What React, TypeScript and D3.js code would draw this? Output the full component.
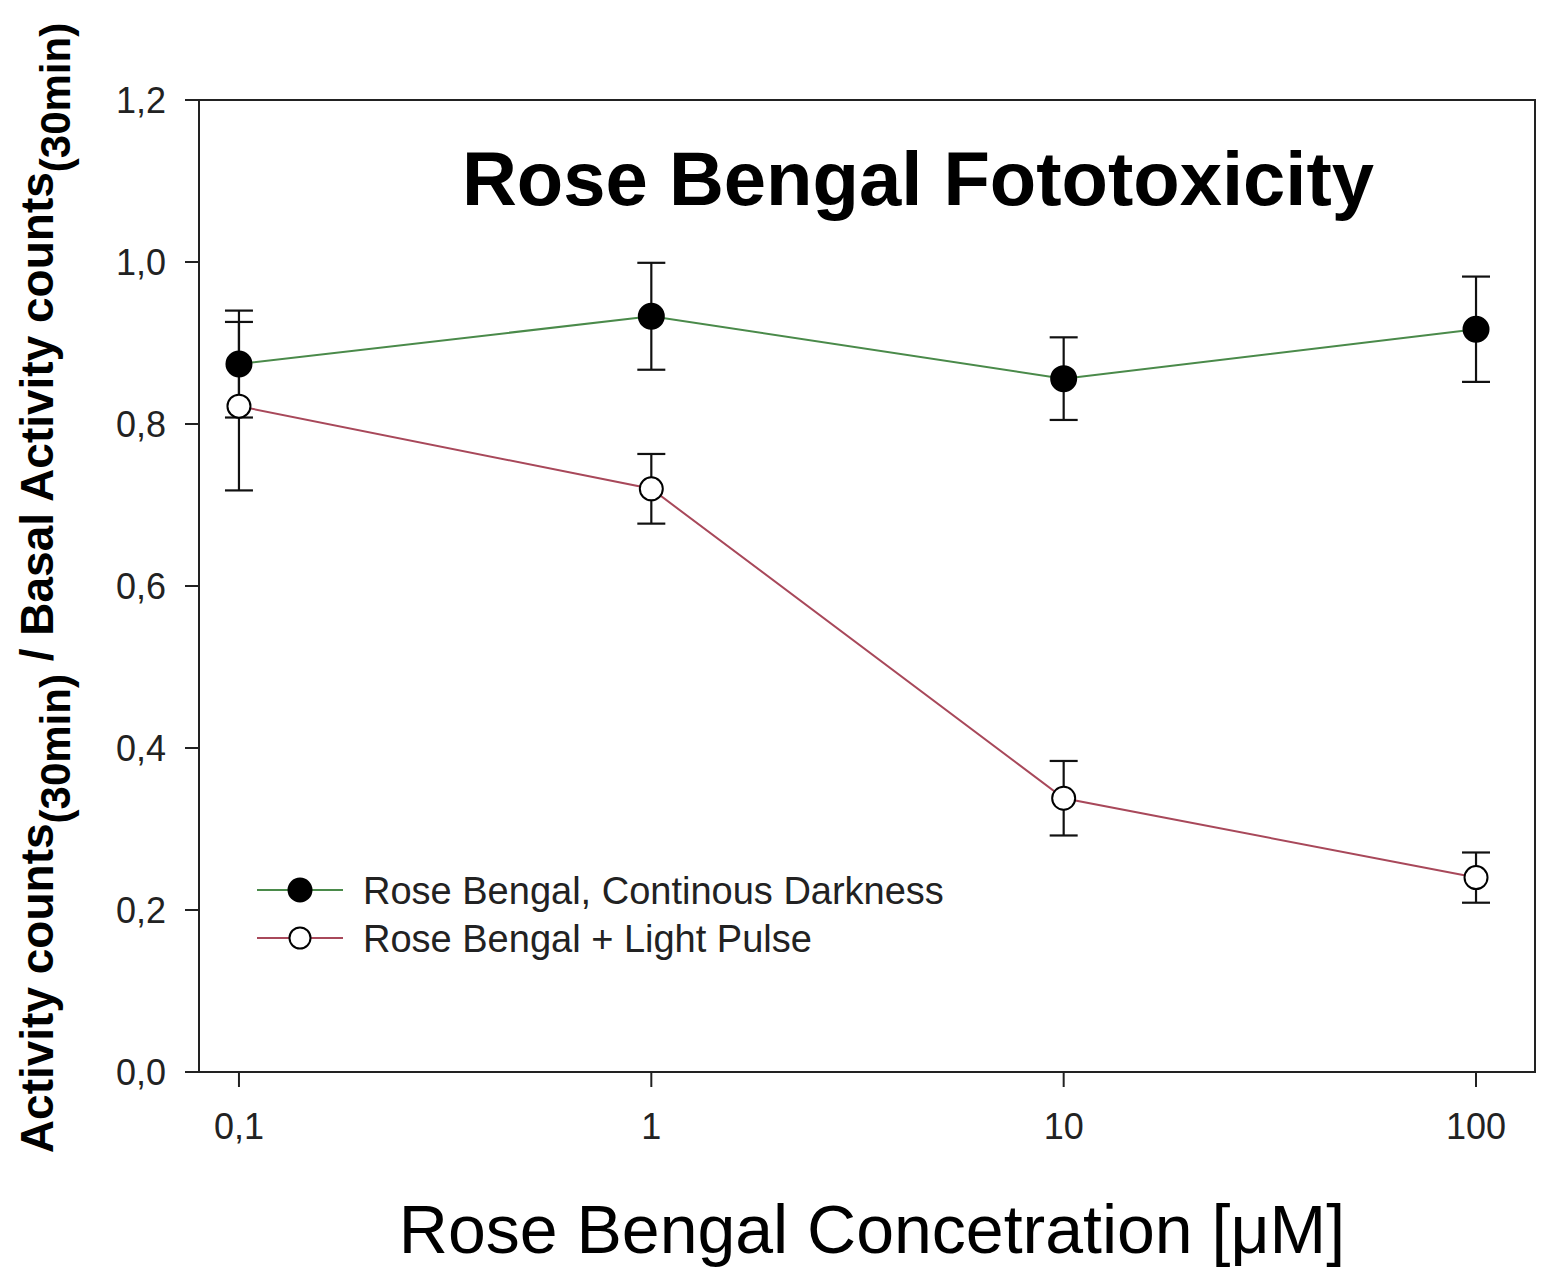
import React from "react";
import * as d3 from "d3";

const concentrations = [0.1, 1, 10, 100];
const darkMeans = [0.874, 0.933, 0.856, 0.917];
const darkErrors = [0.066, 0.066, 0.051, 0.065];
const lightMeans = [0.822, 0.72, 0.338, 0.24];
const lightErrors = [0.104, 0.043, 0.046, 0.031];
const yTicks = [0, 0.2, 0.4, 0.6, 0.8, 1.0, 1.2];
const xTicks = [0.1, 1, 10, 100];
const seriesNames = ["Rose Bengal, Continous Darkness", "Rose Bengal + Light Pulse"];
const title = "Rose Bengal Fototoxicity";
const xTitle = "Rose Bengal Concetration [\u03BCM]";

const W = 1551, H = 1268;
const L = 199, R = 1535, T = 100, B = 1072;
const FONT = "'Liberation Sans', Arial, Helvetica, sans-serif";

export default function App() {
  const x = d3.scaleLog().domain([0.08, 139]).range([L, R]);
  const y = d3.scaleLinear().domain([0, 1.2]).range([B, T]);
  const fmt = (v: number) => d3.format(".1f")(v).replace(".", ",");
  const fmtX = (v: number) => (v < 1 ? String(v).replace(".", ",") : String(v));
  const line = d3.line<number>().x((_, i) => x(concentrations[i])).y((d) => y(d));

  const series = [
    { means: darkMeans, errs: darkErrors, color: "#4a8a4a", fill: "#000" },
    { means: lightMeans, errs: lightErrors, color: "#a8485a", fill: "#fff" },
  ];

  return (
    <svg width={W} height={H} style={{ position: "absolute", left: 0, top: 0, background: "#fff" }} fontFamily={FONT}>
      <rect x={0} y={0} width={W} height={H} fill="#fff" />
      <rect x={L} y={T} width={R - L} height={B - T} fill="none" stroke="#222" strokeWidth={2} />
      {yTicks.map((t) => (
        <g key={"y" + t}>
          <line x1={L - 14} x2={L} y1={y(t)} y2={y(t)} stroke="#222" strokeWidth={2} />
          <text x={L - 33} y={y(t)} dy="0.36em" textAnchor="end" fontSize={36} fill="#222">{fmt(t)}</text>
        </g>
      ))}
      {xTicks.map((t) => (
        <g key={"x" + t}>
          <line x1={x(t)} x2={x(t)} y1={B} y2={B + 15} stroke="#222" strokeWidth={2} />
          <text x={x(t)} y={B + 67} textAnchor="middle" fontSize={36} fill="#222">{fmtX(t)}</text>
        </g>
      ))}
      {series.map((s, si) => (
        <g key={"s" + si}>
          <path d={line(s.means) || ""} fill="none" stroke={s.color} strokeWidth={2} />
          {s.means.map((m, i) => {
            const cx = x(concentrations[i]);
            const yt = y(m + s.errs[i]);
            const yb = y(m - s.errs[i]);
            return (
              <g key={i} stroke="#111" strokeWidth={2.2}>
                <line x1={cx} x2={cx} y1={yt} y2={yb} />
                <line x1={cx - 14} x2={cx + 14} y1={yt} y2={yt} />
                <line x1={cx - 14} x2={cx + 14} y1={yb} y2={yb} />
              </g>
            );
          })}
        </g>
      ))}
      {series.map((s, si) => (
        <g key={"m" + si}>
          {s.means.map((m, i) => (
            <circle key={i} cx={x(concentrations[i])} cy={y(m)} r={si === 0 ? 12.5 : 11.5} fill={s.fill} stroke="#000" strokeWidth={2} />
          ))}
        </g>
      ))}
      {series.map((s, si) => {
        const ly = 890 + si * 48;
        return (
          <g key={"l" + si}>
            <line x1={257} x2={343} y1={ly} y2={ly} stroke={s.color} strokeWidth={2} />
            <circle cx={300} cy={ly} r={si === 0 ? 11.5 : 10.5} fill={s.fill} stroke="#000" strokeWidth={2} />
            <text x={363} y={ly} dy="0.36em" fontSize={38} fill="#222">{seriesNames[si]}</text>
          </g>
        );
      })}
      <text x={918} y={205} textAnchor="middle" fontSize={76} fontWeight="bold" fill="#000">{title}</text>
      <text x={872} y={1253} textAnchor="middle" fontSize={68} fill="#000">{xTitle}</text>
      <text transform="translate(53, 588) rotate(-90)" textAnchor="middle" fontSize={46} fontWeight="bold" fill="#000">
        <tspan>Activity counts</tspan>
        <tspan fontSize={42} dy={17}>(30min)</tspan>
        <tspan dy={-17}> / Basal Activity counts</tspan>
        <tspan fontSize={42} dy={17}>(30min)</tspan>
      </text>
    </svg>
  );
}
